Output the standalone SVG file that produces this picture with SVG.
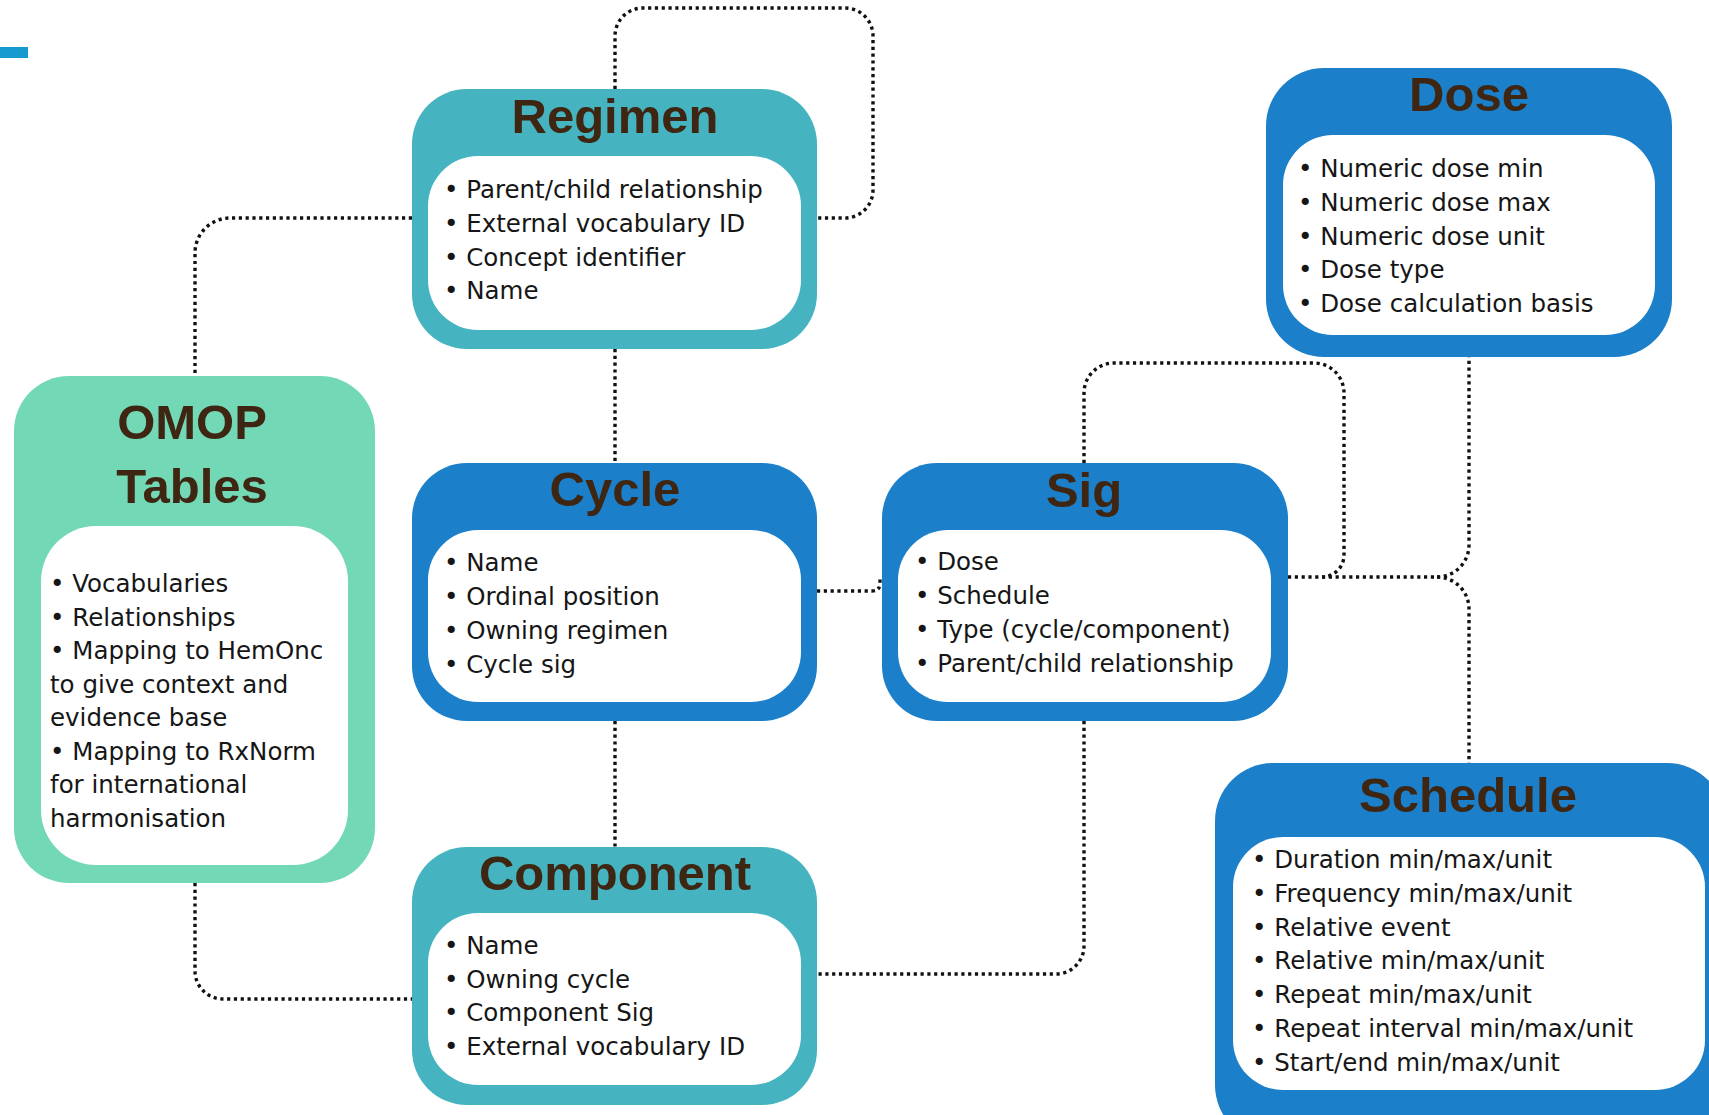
<svg xmlns="http://www.w3.org/2000/svg" width="1709" height="1115" viewBox="0 0 1709 1115">
<style>
.conn path{fill:none;stroke:#111111;stroke-width:3.4;stroke-dasharray:3.2 3.6}
.teal{fill:#45b4c0}
.blue{fill:#1b7fc9}
.mint{fill:#72d8b6}
.inner{fill:#ffffff}
.title{font-family:"Liberation Sans",Arial,sans-serif;font-weight:700;font-size:49px;fill:#3e2612;text-anchor:middle}
.body{font-family:"DejaVu Sans",sans-serif;font-size:24.5px;fill:#161616}
</style>
<rect x="0" y="47" width="28" height="11" fill="#1599cf"/>
<g id="connectors" class="conn">
<path d="M615,89 V36 A28,28 0 0 1 643,8 H845 A28,28 0 0 1 873,36 V190 A28,28 0 0 1 845,218 H817"/>
<path d="M412,218 H230 A35,35 0 0 0 195,253 V376"/>
<path d="M615,349 V463"/>
<path d="M615,721 V847"/>
<path d="M817,591 H872 Q880,591 880,583 V576"/>
<path d="M1288,577 H1437"/>
<path d="M1437,577 A32,32 0 0 0 1469,545 V357"/>
<path d="M1437,577 A32,32 0 0 1 1469,609 V763"/>
<path d="M1084,463 V393 A30,30 0 0 1 1114,363 H1314 A30,30 0 0 1 1344,393 V555 A22,22 0 0 1 1322,577"/>
<path d="M1084,721 V946 A28,28 0 0 1 1056,974 H817"/>
<path d="M195,883 V971 A28,28 0 0 0 223,999 H412"/>
</g>
<g id="regimen">
<rect class="teal" x="412" y="89" width="405" height="260" rx="55"/>
<rect class="inner" x="428" y="156" width="373" height="174" rx="50"/>
<text class="title" x="615" y="133">Regimen</text>
<text class="body" x="444" y="198">• Parent/child relationship</text>
<text class="body" x="444" y="232">• External vocabulary ID</text>
<text class="body" x="444" y="266">• Concept identifier</text>
<text class="body" x="444" y="299">• Name</text>
</g>
<g id="dose">
<rect class="blue" x="1266" y="68" width="406" height="289" rx="58"/>
<rect class="inner" x="1283" y="135" width="372" height="200" rx="50"/>
<text class="title" x="1469" y="111">Dose</text>
<text class="body" x="1298" y="177">• Numeric dose min</text>
<text class="body" x="1298" y="211">• Numeric dose max</text>
<text class="body" x="1298" y="245">• Numeric dose unit</text>
<text class="body" x="1298" y="278">• Dose type</text>
<text class="body" x="1298" y="312">• Dose calculation basis</text>
</g>
<g id="omop">
<rect class="mint" x="14" y="376" width="361" height="507" rx="55"/>
<rect class="inner" x="41" y="526" width="307" height="339" rx="55"/>
<text class="title" x="192" y="439">OMOP</text>
<text class="title" x="192" y="503">Tables</text>
<text class="body" x="50" y="592">• Vocabularies</text>
<text class="body" x="50" y="626">• Relationships</text>
<text class="body" x="50" y="659">• Mapping to HemOnc</text>
<text class="body" x="50" y="693">to give context and</text>
<text class="body" x="50" y="726">evidence base</text>
<text class="body" x="50" y="760">• Mapping to RxNorm</text>
<text class="body" x="50" y="793">for international</text>
<text class="body" x="50" y="827">harmonisation</text>
</g>
<g id="cycle">
<rect class="blue" x="412" y="463" width="405" height="258" rx="55"/>
<rect class="inner" x="428" y="530" width="373" height="172" rx="50"/>
<text class="title" x="615" y="506">Cycle</text>
<text class="body" x="444" y="571">• Name</text>
<text class="body" x="444" y="605">• Ordinal position</text>
<text class="body" x="444" y="639">• Owning regimen</text>
<text class="body" x="444" y="673">• Cycle sig</text>
</g>
<g id="sig">
<rect class="blue" x="882" y="463" width="406" height="258" rx="55"/>
<rect class="inner" x="898" y="530" width="373" height="172" rx="50"/>
<text class="title" x="1084" y="507">Sig</text>
<text class="body" x="915" y="570">• Dose</text>
<text class="body" x="915" y="604">• Schedule</text>
<text class="body" x="915" y="638">• Type (cycle/component)</text>
<text class="body" x="915" y="672">• Parent/child relationship</text>
</g>
<g id="component">
<rect class="teal" x="412" y="847" width="405" height="258" rx="55"/>
<rect class="inner" x="428" y="913" width="373" height="172" rx="50"/>
<text class="title" x="615" y="890">Component</text>
<text class="body" x="444" y="954">• Name</text>
<text class="body" x="444" y="988">• Owning cycle</text>
<text class="body" x="444" y="1021">• Component Sig</text>
<text class="body" x="444" y="1055">• External vocabulary ID</text>
</g>
<g id="schedule">
<rect class="blue" x="1215" y="763" width="510" height="380" rx="58"/>
<rect class="inner" x="1233" y="837" width="472" height="253" rx="50"/>
<text class="title" x="1468" y="812">Schedule</text>
<text class="body" x="1252" y="868">• Duration min/max/unit</text>
<text class="body" x="1252" y="902">• Frequency min/max/unit</text>
<text class="body" x="1252" y="936">• Relative event</text>
<text class="body" x="1252" y="969">• Relative min/max/unit</text>
<text class="body" x="1252" y="1003">• Repeat min/max/unit</text>
<text class="body" x="1252" y="1037">• Repeat interval min/max/unit</text>
<text class="body" x="1252" y="1071">• Start/end min/max/unit</text>
</g>
</svg>
